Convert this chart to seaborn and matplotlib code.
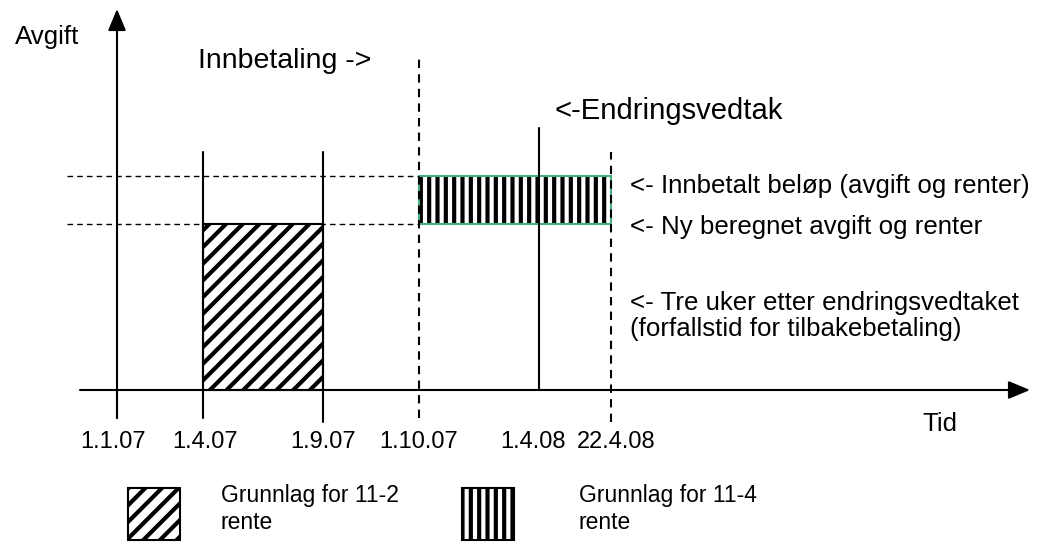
import matplotlib
matplotlib.use("Agg")
import matplotlib.pyplot as plt
import seaborn as sns
from matplotlib.patches import Rectangle

sns.set_theme(style="white")
plt.rcParams['font.family'] = ['Liberation Sans', 'DejaVu Sans']
plt.rcParams['hatch.linewidth'] = 3.0

# schematic time axis (positions along the x axis, not to scale)
tick_labels = ["1.1.07", "1.4.07", "1.9.07", "1.10.07", "1.4.08", "22.4.08"]
tick_x = [0, 86, 206, 302, 422, 494]
label_shift = [-4, 2, 0, 0, -6, 5]   # labels were placed by hand in the original

# amount levels
level_new = 166    # ny beregnet avgift og renter
level_paid = 214   # innbetalt beløp (avgift og renter)

# periods: (start index, end index, bottom, top, style)
periods = [
    (1, 2, 0, level_new, "diag"),
    (3, 5, level_new, level_paid, "vert"),
]

styles = {
    "diag": dict(hatch="//", edgecolor="black"),
    "vert": dict(hatch="||", edgecolor="black"),
}

legend_labels = ["Grunnlag for 11-2\nrente", "Grunnlag for 11-4\nrente"]

fig = plt.figure(figsize=(10.47, 5.44), dpi=100)
ax = fig.add_axes([0, 0, 1, 1])
ax.set_xlim(-117, 930)
ax.set_ylim(-154, 390)
ax.set_axis_off()

black = "black"
dash = (0, (4, 3))

# shaded periods
for i0, i1, b, t, st in periods:
    x0, x1 = tick_x[i0], tick_x[i1]
    ax.bar(x0, t - b, width=x1 - x0, bottom=b, align="edge", color="white",
           linewidth=0, zorder=2, **styles[st])
    ax.bar(x0, t - b, width=x1 - x0, bottom=b, align="edge", fill=False,
           edgecolor=black if st == "diag" else "#46b07c", linewidth=1.5,
           zorder=3)

# dashed level lines
for lev in (level_new, level_paid):
    ax.plot([-50, tick_x[3]], [lev, lev], color=black, lw=1.0, ls=dash, zorder=1)

# vertical lines at the dates
vlines = [  # (index, top, bottom, dashed)
    (0, 0, -28, False),
    (1, 238, -28, False),
    (2, 238, -32, False),
    (3, 332, -28, True),
    (4, 262, 0, False),
    (5, 238, -32, True),
]
for i, top, bot, dashed in vlines:
    ax.plot([tick_x[i], tick_x[i]], [bot, top], color=black,
            lw=1.5, ls=dash if dashed else "-", zorder=4)

# axes with arrows
head = "-|>,head_length=0.6,head_width=0.25"
ax.annotate("", xy=(913, 0), xytext=(-37, 0),
            arrowprops=dict(arrowstyle=head, mutation_scale=22, lw=1.5,
                            color=black, shrinkA=0, shrinkB=0))
ax.annotate("", xy=(0, 381), xytext=(0, -28),
            arrowprops=dict(arrowstyle=head, mutation_scale=22, lw=1.5,
                            color=black, shrinkA=0, shrinkB=0))

# tick labels
for x, dx, lab in zip(tick_x, label_shift, tick_labels):
    ax.text(x + dx, -52, lab, ha="center", va="center", fontsize=17, color=black)

fs = 18.6
ax.text(-102, 353, "Avgift", ha="left", va="center", fontsize=fs, color=black)
ax.text(805, -34, "Tid", ha="left", va="center", fontsize=fs, color=black)
ax.text(81, 329, "Innbetaling ->", ha="left", va="center", fontsize=20.5, color=black)
ax.text(438, 279, "<-Endringsvedtak", ha="left", va="center", fontsize=21.1, color=black)
ax.text(513, 204, "<- Innbetalt beløp (avgift og renter)", ha="left", va="center",
        fontsize=fs, color=black)
ax.text(513, 163, "<- Ny beregnet avgift og renter", ha="left", va="center",
        fontsize=fs, color=black)
ax.text(513, 74, "<- Tre uker etter endringsvedtaket\n(forfallstid for tilbakebetaling)",
        ha="left", va="center", fontsize=fs, linespacing=1.15, color=black)

# legend swatches
for (bx, tx), st, lab in zip([(11, 104), (345, 462)], ["diag", "vert"], legend_labels):
    ax.add_patch(Rectangle((bx, -150), 52, 52, facecolor="white", linewidth=1.5,
                           **styles[st]))
    ax.text(tx, -119, lab, ha="left", va="center", fontsize=16.5, linespacing=1.2,
            color=black)

fig.savefig("out.png", dpi=100)
